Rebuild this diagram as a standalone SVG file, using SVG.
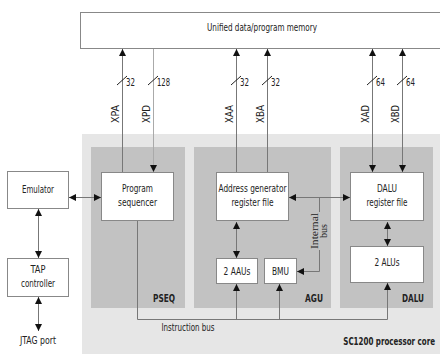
<svg xmlns="http://www.w3.org/2000/svg" width="440" height="354" viewBox="0 0 440 354">
<defs>
<marker id="ah" viewBox="0 0 10 10" refX="10" refY="5" markerWidth="8" markerHeight="7" markerUnits="userSpaceOnUse" orient="auto-start-reverse">
<path d="M0,0 L10,5 L0,10 Z" fill="#111"/>
</marker>
<style>
text{font-family:"DejaVu Sans Condensed","DejaVu Sans","Liberation Sans",sans-serif;font-size:10px;fill:#222}
.c{text-anchor:middle}
.b{font-weight:bold;text-anchor:end}
.box{fill:#fff;stroke:#888;stroke-width:1}
.ln{fill:none;stroke:#777;stroke-width:1}
.a1{marker-end:url(#ah)}
.a2{marker-start:url(#ah);marker-end:url(#ah)}
.sl{stroke:#222;stroke-width:1}
.ser{font-family:"Liberation Serif",serif}
</style>
</defs>
<rect width="440" height="354" fill="#fff"/>
<g id="core">
<rect x="82" y="134" width="362" height="224" fill="#e6e6e6"/>
<text class="b" transform="translate(435,345) scale(0.79,1)">SC1200 processor core</text>
</g>
<g id="pseq">
<rect x="91" y="147" width="94" height="161" fill="#c2c2c2"/>
<text class="b" x="175" y="302" textLength="22" lengthAdjust="spacingAndGlyphs">PSEQ</text>
</g>
<g id="agu">
<rect x="194" y="147" width="137" height="161" fill="#c2c2c2"/>
<text class="b" x="323" y="302" textLength="18" lengthAdjust="spacingAndGlyphs">AGU</text>
</g>
<g id="dalu">
<rect x="340" y="147" width="93" height="161" fill="#c2c2c2"/>
<text class="b" x="424" y="302" textLength="22" lengthAdjust="spacingAndGlyphs">DALU</text>
</g>
<g id="memory">
<rect class="box" x="80.5" y="12.5" width="370" height="36"/>
<text class="c" x="262" y="31" textLength="110" lengthAdjust="spacingAndGlyphs">Unified data/program memory</text>
</g>
<g id="connectors">
<line class="ln a1" x1="122.5" y1="172" x2="122.5" y2="49"/>
<line class="ln a1" x1="153.5" y1="49" x2="153.5" y2="172" style="stroke:#aaa"/>
<line class="ln a1" x1="236.5" y1="172" x2="236.5" y2="49"/>
<line class="ln a1" x1="267.5" y1="172" x2="267.5" y2="49"/>
<line class="ln a2" x1="372.5" y1="49" x2="372.5" y2="172"/>
<line class="ln a2" x1="402.5" y1="49" x2="402.5" y2="172"/>
<line class="sl" x1="117" y1="85" x2="127" y2="76"/>
<line class="sl" x1="148" y1="85" x2="158" y2="76"/>
<line class="sl" x1="231" y1="85" x2="241" y2="76"/>
<line class="sl" x1="262" y1="85" x2="272" y2="76"/>
<line class="sl" x1="367" y1="85" x2="377" y2="76"/>
<line class="sl" x1="397" y1="85" x2="407" y2="76"/>
<text x="126" y="86" textLength="9" lengthAdjust="spacingAndGlyphs">32</text>
<text x="157" y="86" textLength="13" lengthAdjust="spacingAndGlyphs">128</text>
<text x="240" y="86" textLength="9" lengthAdjust="spacingAndGlyphs">32</text>
<text x="271" y="86" textLength="9" lengthAdjust="spacingAndGlyphs">32</text>
<text x="376" y="86" textLength="9" lengthAdjust="spacingAndGlyphs">64</text>
<text x="406" y="86" textLength="9" lengthAdjust="spacingAndGlyphs">64</text>
<text class="c" transform="translate(119,114) rotate(-90)" textLength="18" lengthAdjust="spacingAndGlyphs">XPA</text>
<text class="c" transform="translate(150,114) rotate(-90)" textLength="18" lengthAdjust="spacingAndGlyphs">XPD</text>
<text class="c" transform="translate(233,114) rotate(-90)" textLength="18" lengthAdjust="spacingAndGlyphs">XAA</text>
<text class="c" transform="translate(264,114) rotate(-90)" textLength="18" lengthAdjust="spacingAndGlyphs">XBA</text>
<text class="c" transform="translate(369,114) rotate(-90)" textLength="18" lengthAdjust="spacingAndGlyphs">XAD</text>
<text class="c" transform="translate(399,114) rotate(-90)" textLength="18" lengthAdjust="spacingAndGlyphs">XBD</text>
<line class="ln a2" x1="69" y1="197.5" x2="101" y2="197.5"/>
<line class="ln a2" x1="38.5" y1="209" x2="38.5" y2="258"/>
<line class="ln a2" x1="38.5" y1="297" x2="38.5" y2="331"/>
<line class="ln a2" x1="289" y1="197.5" x2="350" y2="197.5"/>
<polyline class="ln a1" points="319.5,197.5 319.5,271.5 297,271.5"/>
<rect x="309" y="212" width="20" height="38" fill="#c2c2c2"/>
<text class="c ser" transform="translate(318,231) rotate(-90)" textLength="36" lengthAdjust="spacingAndGlyphs">Internal</text>
<text class="c ser" transform="translate(327,231) rotate(-90)" textLength="14" lengthAdjust="spacingAndGlyphs">bus</text>
<line class="ln a2" x1="236.5" y1="222" x2="236.5" y2="258"/>
<line class="ln a2" x1="387.5" y1="222" x2="387.5" y2="246"/>
<polyline class="ln" points="137.5,221 137.5,319.5 387.5,319.5"/>
<line class="ln a1" x1="236.5" y1="319.5" x2="236.5" y2="284"/>
<line class="ln a1" x1="279.5" y1="319.5" x2="279.5" y2="284"/>
<line class="ln a1" x1="387.5" y1="319.5" x2="387.5" y2="283"/>
<text class="c" x="188" y="331" textLength="53" lengthAdjust="spacingAndGlyphs">Instruction bus</text>
</g>
<g id="program-sequencer">
<rect class="box" x="101.5" y="172.5" width="72" height="48"/>
<text class="c" x="137.5" y="192" textLength="31" lengthAdjust="spacingAndGlyphs">Program</text>
<text class="c" x="137.5" y="206" textLength="39" lengthAdjust="spacingAndGlyphs">sequencer</text>
</g>
<g id="address-generator">
<rect class="box" x="216.5" y="172.5" width="72" height="48"/>
<text class="c" x="252.5" y="192" textLength="68" lengthAdjust="spacingAndGlyphs">Address generator</text>
<text class="c" x="252.5" y="206" textLength="42" lengthAdjust="spacingAndGlyphs">register file</text>
</g>
<g id="dalu-register">
<rect class="box" x="350.5" y="172.5" width="73" height="48"/>
<text class="c" x="387" y="192" textLength="20" lengthAdjust="spacingAndGlyphs">DALU</text>
<text class="c" x="387" y="206" textLength="41" lengthAdjust="spacingAndGlyphs">register file</text>
</g>
<g id="aaus">
<rect class="box" x="216.5" y="258.5" width="41" height="25"/>
<text class="c" x="237" y="275" textLength="27" lengthAdjust="spacingAndGlyphs">2 AAUs</text>
</g>
<g id="bmu">
<rect class="box" x="264.5" y="258.5" width="32" height="25"/>
<text class="c" x="280.5" y="275" textLength="17" lengthAdjust="spacingAndGlyphs">BMU</text>
</g>
<g id="alus">
<rect class="box" x="350.5" y="246.5" width="73" height="36"/>
<text class="c" x="387" y="266" textLength="25" lengthAdjust="spacingAndGlyphs">2 ALUs</text>
</g>
<g id="emulator">
<rect class="box" x="7.5" y="171.5" width="61" height="37"/>
<text class="c" x="38" y="193" textLength="32" lengthAdjust="spacingAndGlyphs">Emulator</text>
</g>
<g id="tap">
<rect class="box" x="7.5" y="258.5" width="61" height="38"/>
<text class="c" x="38" y="273" textLength="15" lengthAdjust="spacingAndGlyphs">TAP</text>
<text class="c" x="38" y="287" textLength="34" lengthAdjust="spacingAndGlyphs">controller</text>
</g>
<g id="jtag">
<text class="c" x="38" y="344" textLength="36" lengthAdjust="spacingAndGlyphs">JTAG port</text>
</g>
</svg>
